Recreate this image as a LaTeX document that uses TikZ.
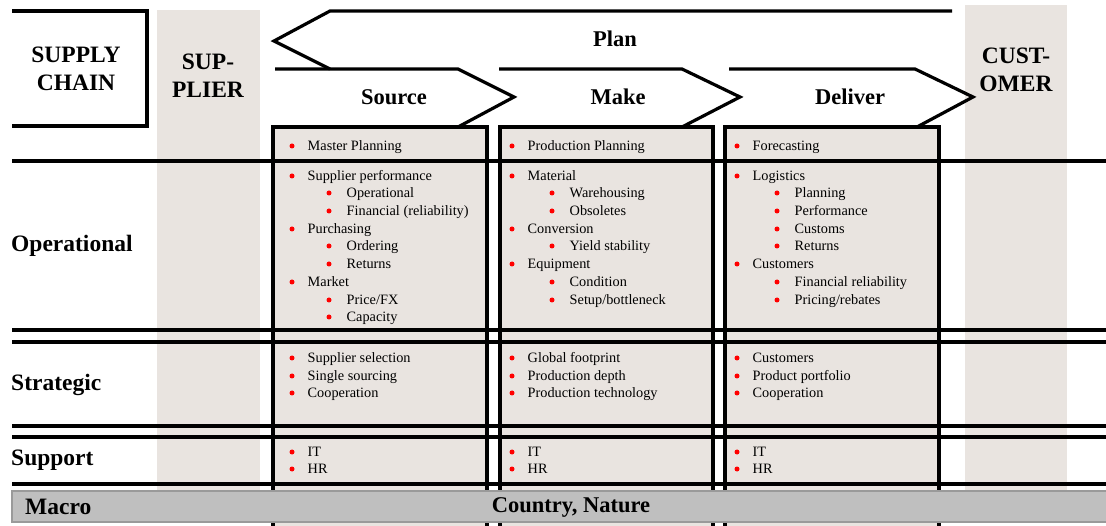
\documentclass[tikz,border=0pt]{standalone}
\usepackage{fontspec}
\setmainfont{Liberation Serif}
\definecolor{beige}{HTML}{E9E4E0}
\definecolor{macrogray}{HTML}{BFBFBF}
\definecolor{macroedge}{HTML}{9A9A9A}
\newcommand\mitem[4]{\node[dot] (#1-b) at (#2,#3) {}; \node[itemtext] (#1) at (#2+15.5,#3+4.8) {#4};}
\newcommand\sitem[4]{\node[dot] (#1-b) at (#2,#3) {}; \node[itemtext] (#1) at (#2+17.5,#3+4.8) {#4};}
\begin{document}
\begin{tikzpicture}[x=1pt,y=-1pt,
  rule/.style={line width=3.2pt},
  head/.style={font=\fontsize{22.5}{28}\selectfont\bfseries, inner sep=0pt, align=center},
  bighead/.style={font=\fontsize{23.5}{28}\selectfont\bfseries, inner sep=0pt, align=center},
  rowlabel/.style={font=\fontsize{23.5}{28}\selectfont\bfseries, inner sep=0pt, anchor=west},
  itemtext/.style={font=\fontsize{14.3}{17}\selectfont, inner sep=0pt, anchor=base west},
  dot/.style={circle, fill=red, inner sep=0pt, minimum size=5pt},
]
\clip (0,0) rectangle (1106,526);
\fill[white] (0,0) rectangle (1106,526);
% side columns
\fill[beige] (157,10) rectangle (260,491);
\fill[beige] (965,5) rectangle (1067,491);
% column box fills
\fill[beige] (273,127) rectangle (487,530);
\fill[beige] (500,127) rectangle (713,530);
\fill[beige] (725,127) rectangle (939,530);
% horizontal rules
\foreach \yy in {161,330,342,426,437,484}
  \draw[rule] (12,\yy) -- (1106,\yy);
% column box outlines
\draw[rule] (273,530) -- (273,127) -- (487,127) -- (487,530);
\draw[rule] (500,530) -- (500,127) -- (713,127) -- (713,530);
\draw[rule] (725,530) -- (725,127) -- (939,127) -- (939,530);
% supply chain box
\draw[rule] (12,11) -- (147,11) -- (147,126) -- (12,126);
% plan arrow
\draw[rule] (952,11) -- (330,11) -- (274,41) -- (330,69);
% chevrons
\draw[rule] (275,69) -- (458,69) -- (514,97) -- (458,127);
\draw[rule] (499,69) -- (682,69) -- (740,97) -- (682,127);
\draw[rule] (729,69) -- (915,69) -- (973,97) -- (917,127);
% macro bar
\draw[draw=macroedge, fill=macrogray, line width=1.5pt] (12,491) rectangle (1112,522);
% headings
\node[bighead] (sc) at (76,69) {SUPPLY\\CHAIN};
\node[bighead] (sup) at (208,76) {SUP-\\PLIER};
\node[bighead] (cust) at (1016,70) {CUST-\\OMER};
\node[head] (plan) at (615,39) {Plan};
\node[head] (source) at (394,97) {Source};
\node[head] (make) at (618,97) {Make};
\node[head] (deliver) at (850,97) {Deliver};
\node[rowlabel] (oper) at (11,246) {Operational};
\node[rowlabel] (strat) at (11,385) {Strategic};
\node[rowlabel] (supp) at (11,460) {Support};
\node[rowlabel] (macro) at (25,507) {Macro};
\node[head] (nature) at (571,507) {Country, Nature};
% Source column
\mitem{s1}{292}{146}{Master Planning}
\mitem{s2}{292}{176}{Supplier performance}
\sitem{s3}{329}{193}{Operational}
\sitem{s4}{329}{211}{Financial\ (reliability)}
\mitem{s5}{292}{229}{Purchasing}
\sitem{s6}{329}{246}{Ordering}
\sitem{s7}{329}{264}{Returns}
\mitem{s8}{292}{282}{Market}
\sitem{s9}{329}{300}{Price/FX}
\sitem{s10}{329}{317}{Capacity}
\mitem{s11}{292}{358}{Supplier selection}
\mitem{s12}{292}{376}{Single\ sourcing}
\mitem{s13}{292}{393}{Cooperation}
\mitem{s14}{292}{452}{IT}
\mitem{s15}{292}{469}{HR}
% Make column
\mitem{m1}{512}{146}{Production Planning}
\mitem{m2}{512}{176}{Material}
\sitem{m3}{552}{193}{Warehousing}
\sitem{m4}{552}{211}{Obsoletes}
\mitem{m5}{512}{229}{Conversion}
\sitem{m6}{552}{246}{Yield\ stability}
\mitem{m7}{512}{264}{Equipment}
\sitem{m8}{552}{282}{Condition}
\sitem{m9}{552}{300}{Setup/bottleneck}
\mitem{m10}{512}{358}{Global footprint}
\mitem{m11}{512}{376}{Production depth}
\mitem{m12}{512}{393}{Production technology}
\mitem{m13}{512}{452}{IT}
\mitem{m14}{512}{469}{HR}
% Deliver column
\mitem{d1}{737}{146}{Forecasting}
\mitem{d2}{737}{176}{Logistics}
\sitem{d3}{777}{193}{Planning}
\sitem{d4}{777}{211}{Performance}
\sitem{d5}{777}{229}{Customs}
\sitem{d6}{777}{246}{Returns}
\mitem{d7}{737}{264}{Customers}
\sitem{d8}{777}{282}{Financial\ reliability}
\sitem{d9}{777}{300}{Pricing/rebates}
\mitem{d10}{737}{358}{Customers}
\mitem{d11}{737}{376}{Product portfolio}
\mitem{d12}{737}{393}{Cooperation}
\mitem{d13}{737}{452}{IT}
\mitem{d14}{737}{469}{HR}
\end{tikzpicture}
\end{document}
